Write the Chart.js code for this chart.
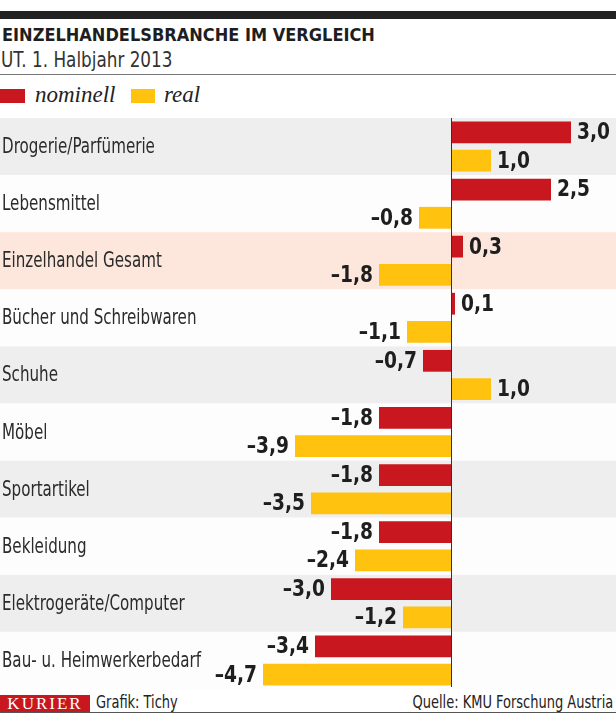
<!DOCTYPE html>
<html>
<head>
<meta charset="utf-8">
<script src="https://cdn.jsdelivr.net/npm/chart.js@4"></script>
<style>
  body { margin: 0; width: 616px; height: 715px; position: relative; background: #fff; overflow: hidden; }
  .abs { position: absolute; white-space: nowrap; }
  .narrow { font-family: "Liberation Sans Narrow", "DejaVu Sans Condensed", "Liberation Sans", sans-serif; }
  #topbar { left: 0; top: 11px; width: 616px; height: 8px; background: #222; }
  #title { left: 2px; top: 26px; font-size: 18px; line-height: 18px; font-weight: bold; color: #1e1e1e; }
  #subtitle { left: 1px; top: 49px; font-size: 22px; line-height: 22px; color: #333; transform: scaleX(0.85); transform-origin: left top; }
  #rule { left: 0; top: 74px; width: 616px; height: 1px; background: #777; }
  .swatch { top: 89px; height: 14px; }
  .legtxt { top: 83px; font-family: "Liberation Serif", "DejaVu Serif", serif; font-style: italic; font-size: 23px; line-height: 23px; color: #222; }
  #chartbox { left: 0; top: 118px; width: 616px; height: 571px; }
  #kurier { left: 0; top: 695px; width: 90px; height: 17px; background: #c8171e; color: #fff; font-family: "Liberation Serif", serif; font-size: 17px; line-height: 18px; letter-spacing: 2px; text-align: center; }
  .foot { top: 694px; font-size: 17px; line-height: 17px; color: #222; transform: scaleX(0.85); }
  #bottomrule { left: 0; top: 712px; width: 616px; height: 1px; background: #555; }
</style>
</head>
<body>
<div class="abs" id="topbar"></div>
<div class="abs narrow" id="title">EINZELHANDELSBRANCHE IM VERGLEICH</div>
<div class="abs narrow" id="subtitle">UT. 1. Halbjahr 2013</div>
<div class="abs" id="rule"></div>
<div class="abs swatch" style="left:0;width:25px;background:#c8171e"></div>
<div class="abs legtxt" style="left:35px">nominell</div>
<div class="abs swatch" style="left:131px;width:24px;background:#fec20f"></div>
<div class="abs legtxt" style="left:164px">real</div>
<div class="abs" id="chartbox"><canvas id="chart" width="616" height="571"></canvas></div>
<div class="abs" id="kurier">KURIER</div>
<div class="abs narrow foot" style="left:96px;transform-origin:left top">Grafik: Tichy</div>
<div class="abs narrow foot" style="right:3px;transform-origin:right top">Quelle: KMU Forschung Austria</div>
<div class="abs" id="bottomrule"></div>

<script>
const categories = [
    'Drogerie/Parfümerie', 'Lebensmittel', 'Einzelhandel Gesamt', 'Bücher und Schreibwaren',
    'Schuhe', 'Möbel', 'Sportartikel', 'Bekleidung', 'Elektrogeräte/Computer', 'Bau- u. Heimwerkerbedarf'
];
const nominell = [3.0, 2.5, 0.3, 0.1, -0.7, -1.8, -1.8, -1.8, -3.0, -3.4];
const real = [1.0, -0.8, -1.8, -1.1, 1.0, -3.9, -3.5, -2.4, -1.2, -4.7];
const rowColors = ['#efeeef', '#fdfdfd', '#fde6dc', '#fdfdfd', '#efeeef', '#fdfdfd', '#efeeef', '#fdfdfd', '#efeeef', '#fdfdfd'];

const NARROW = '"Liberation Sans Narrow", "DejaVu Sans Condensed", "Liberation Sans", sans-serif';

function fmt(v) {
    const s = Math.abs(v).toFixed(1).replace('.', ',');
    return v < 0 ? '\u2013' + s : s;
}

// condensed look: squeeze the text horizontally
function squeezedText(ctx, text, x, y, sx) {
    ctx.save();
    ctx.translate(x, y);
    ctx.scale(sx, 1);
    ctx.fillText(text, 0, 0);
    ctx.restore();
}

// row backgrounds behind the bars
const rowsPlugin = {
    id: 'rows',
    beforeDatasetsDraw(chart) {
        const { ctx, scales: { y } } = chart;
        const half = (y.getPixelForValue(1) - y.getPixelForValue(0)) / 2;
        ctx.save();
        categories.forEach((c, i) => {
            const cy = y.getPixelForValue(i);
            ctx.fillStyle = rowColors[i];
            ctx.fillRect(0, cy - half, chart.width, half * 2);
        });
        ctx.restore();
    }
};

// category names, zero line, value labels
const labelsPlugin = {
    id: 'labels',
    afterDatasetsDraw(chart) {
        const { ctx, scales: { x, y } } = chart;
        const half = (y.getPixelForValue(1) - y.getPixelForValue(0)) / 2;
        ctx.save();
        ctx.font = '21px ' + NARROW;
        ctx.fillStyle = '#2b2b2b';
        ctx.textAlign = 'left';
        ctx.textBaseline = 'middle';
        categories.forEach((c, i) => squeezedText(ctx, c, 2, y.getPixelForValue(i) + 1, 0.8));

        const x0 = Math.round(x.getPixelForValue(0)) + 0.5;
        ctx.strokeStyle = '#333';
        ctx.lineWidth = 1;
        ctx.beginPath();
        ctx.moveTo(x0, y.getPixelForValue(0) - half - 2);
        ctx.lineTo(x0, y.getPixelForValue(categories.length - 1) + half - 2);
        ctx.stroke();

        ctx.font = 'bold 23px ' + NARROW;
        ctx.fillStyle = '#1e1e1e';
        chart.data.datasets.forEach((ds, di) => {
            chart.getDatasetMeta(di).data.forEach((bar, i) => {
                const v = ds.data[i];
                ctx.textAlign = v < 0 ? 'right' : 'left';
                squeezedText(ctx, fmt(v), bar.x + (v < 0 ? -6 : 6), bar.y + 1, 0.9);
            });
        });
        ctx.restore();
    }
};

const ctx = document.getElementById('chart').getContext('2d');
new Chart(ctx, {
    type: 'bar',
    data: {
        labels: categories,
        datasets: [
            { label: 'nominell', data: nominell, backgroundColor: '#c8171e' },
            { label: 'real', data: real, backgroundColor: '#fec20f' }
        ]
    },
    options: {
        indexAxis: 'y',
        responsive: false,
        animation: false,
        devicePixelRatio: 1,
        layout: { padding: 0 },
        categoryPercentage: 0.99,
        barPercentage: 0.77,
        plugins: { legend: { display: false }, tooltip: { enabled: false } },
        scales: {
            x: { display: false, min: -11.275, max: 4.125 },
            y: { display: false }
        }
    },
    plugins: [rowsPlugin, labelsPlugin]
});
</script>
</body>
</html>
